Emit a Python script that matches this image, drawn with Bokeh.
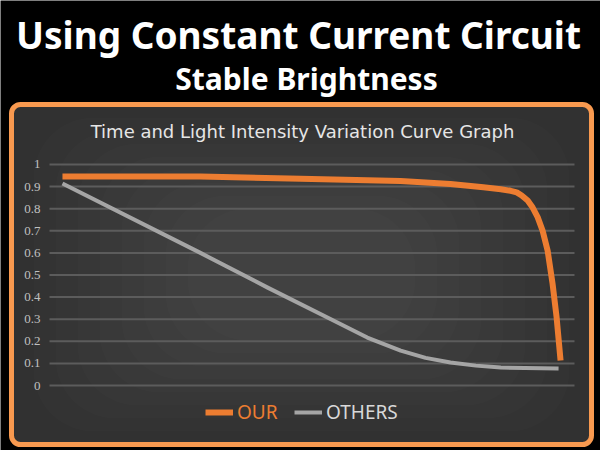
from bokeh.plotting import figure
from bokeh.models import (Range1d, BoxAnnotation, Label, LabelSet, Legend, LegendItem,
                          ColumnDataSource)
from bokeh.embed import file_html
from bokeh.resources import INLINE

# ---- data (time in % of run, light intensity) ----
our_time = [0, 27.7, 47.8, 67.9, 77.9, 84.5, 88.0, 90.0, 91.2, 92.2, 93.4, 94.4, 95.4,
            96.4, 97.4, 98.4, 99.2, 100]
our_light = [0.946, 0.946, 0.935, 0.925, 0.912, 0.897, 0.888, 0.881, 0.874, 0.860, 0.837,
             0.805, 0.762, 0.70, 0.611, 0.46, 0.31, 0.113]
others_time = [0, 27.7, 41.2, 54.4, 61.2, 67.9, 72.9, 77.9, 83.0, 88.0, 99.6]
others_light = [0.914, 0.600, 0.443, 0.294, 0.217, 0.158, 0.125, 0.104, 0.090, 0.081, 0.077]
y_ticks = [0, 0.1, 0.2, 0.3, 0.4, 0.5, 0.6, 0.7, 0.8, 0.9, 1.0]
y_tick_labels = [f"{v:g}" for v in y_ticks]
time_span = [-2.6, 102.8]   # extent of the plotting area along the time axis

headline = "Using Constant Current Circuit"
subheadline = "Stable Brightness"
chart_title = "Time and Light Intensity Variation Curve Graph"

# the frame fills the whole 600x450 canvas; ranges are chosen so that the
# plotting area sits inside the orange panel
p = figure(width=600, height=450, output_backend="svg", toolbar_location=None,
           x_range=Range1d(-12.44, 108.02), y_range=Range1d(-0.294, 1.742),
           x_axis_type=None, y_axis_type=None, min_border=0)
p.title = None
p.background_fill_color = "#000000"
p.border_fill_color = "#000000"
p.outline_line_color = None
p.grid.visible = False

# panel with orange rounded border
p.add_layout(BoxAnnotation(left=11, right=591, top=346, bottom=6,
                           left_units="screen", right_units="screen",
                           top_units="screen", bottom_units="screen",
                           fill_color="#313131", fill_alpha=1.0,
                           line_color="#f8994f", line_alpha=1.0, line_width=5,
                           border_radius=9, level="image"))
# soft radial lightening towards the centre of the panel
for i in range(1, 9):
    dx, dy = 22 * i, 13 * i
    p.add_layout(BoxAnnotation(left=11 + dx, right=591 - dx, top=346 - dy, bottom=6 + dy,
                               left_units="screen", right_units="screen",
                               top_units="screen", bottom_units="screen",
                               fill_color="#ffffff", fill_alpha=0.013,
                               line_color=None, border_radius=60, level="image"))

# horizontal grid lines
p.segment(x0=[time_span[0]] * len(y_ticks), x1=[time_span[1]] * len(y_ticks),
          y0=y_ticks, y1=y_ticks, line_color="#5c5c5c", line_width=2, level="underlay")

# y tick labels
tick_src = ColumnDataSource(dict(y=y_ticks, text=y_tick_labels))
p.add_layout(LabelSet(x=40, y="y", x_units="screen", text="text", source=tick_src,
                      text_align="right", text_baseline="middle", text_color="#c0c0c0",
                      text_font="Liberation Sans", text_font_size="13px"))

r_oth = p.line(others_time, others_light, line_color="#a5a5a5", line_width=4,
               line_join="round", line_cap="butt")
r_our = p.line(our_time, our_light, line_color="#ed7d31", line_width=6,
               line_join="round", line_cap="butt")

p.add_layout(Label(x=298, y=416, x_units="screen", y_units="screen", text=headline,
                   text_align="center", text_baseline="middle", text_color="white",
                   text_font="Noto Sans", text_font_style="bold", text_font_size="37px"))
p.add_layout(Label(x=306, y=372, x_units="screen", y_units="screen", text=subheadline,
                   text_align="center", text_baseline="middle", text_color="white",
                   text_font="Noto Sans", text_font_style="bold", text_font_size="30px"))
p.add_layout(Label(x=302, y=319, x_units="screen", y_units="screen", text=chart_title,
                   text_align="center", text_baseline="middle", text_color="#e6e6e6",
                   text_font="DejaVu Sans", text_font_size="18px"))

for item, loc, col in [(LegendItem(label="OUR", renderers=[r_our]), (205, 25), "#ed7d31"),
                       (LegendItem(label="OTHERS", renderers=[r_oth]), (294, 25), "#d9d9d9")]:
    lg = Legend(items=[item], location=loc, orientation="horizontal",
                background_fill_alpha=0, border_line_color=None, padding=0, margin=0,
                glyph_width=28, glyph_height=20, label_height=20, label_standoff=4,
                label_text_color=col, label_text_font="Noto Sans",
                label_text_font_size="19px")
    p.add_layout(lg)

open("out.html", "w").write(file_html(p, INLINE))
